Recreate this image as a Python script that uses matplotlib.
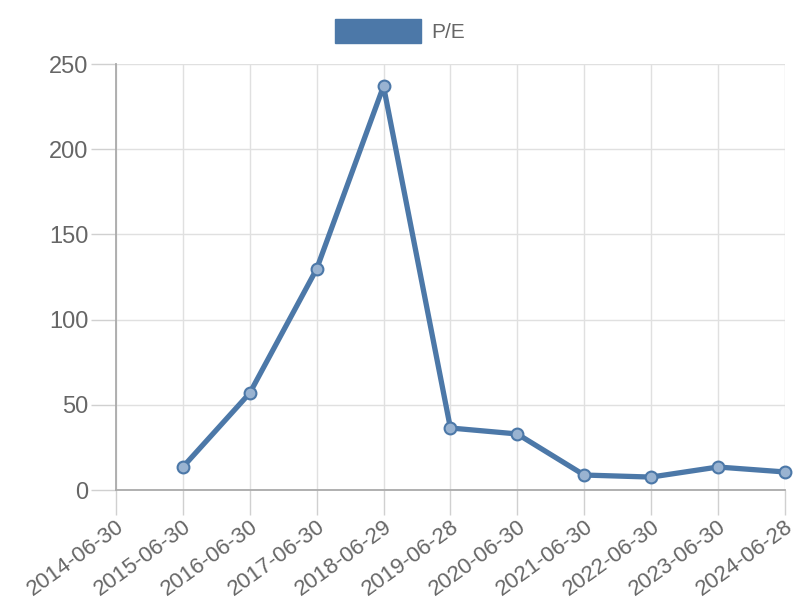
import numpy as np
import matplotlib
matplotlib.use("Agg")
import matplotlib.pyplot as plt
from matplotlib.patches import Patch

plt.rcParams['font.family'] = ['Liberation Sans', 'DejaVu Sans']

dates = ["2014-06-30", "2015-06-30", "2016-06-30", "2017-06-30", "2018-06-29",
         "2019-06-28", "2020-06-30", "2021-06-30", "2022-06-30", "2023-06-30",
         "2024-06-28"]
pe = [np.nan, 13.5, 56.9, 129.7, 237.0, 36.4, 32.9, 8.8, 7.6, 13.5, 10.6]

blue = "#4c78a8"
gray = "#666666"

fig = plt.figure(figsize=(8, 6), dpi=100)
ax = fig.add_axes([0.145, 0.1833, 0.836, 0.71])

x = np.arange(len(dates))
ax.plot(x, pe, color=blue, lw=3.8, marker="o", ms=8.5,
        mfc=(0.6, 0.7, 0.82, 1.0), mec=blue, mew=1.5, zorder=3, clip_on=False)

ax.set_xlim(0, len(dates) - 1)
ax.set_ylim(0, 250)
ax.set_yticks([0, 50, 100, 150, 200, 250])
ax.set_xticks(x)
ax.set_xticklabels(dates, rotation=36, ha="right", rotation_mode="anchor")
ax.tick_params(colors="#d0d0d0", labelcolor=gray, width=1)
ax.tick_params(axis="y", length=18, pad=2, labelsize=17)
ax.tick_params(axis="x", length=18, pad=1, labelsize=16)
ax.grid(True, color="#e0e0e0", lw=1)
ax.set_axisbelow(True)
for s in ["top", "right"]:
    ax.spines[s].set_visible(False)
for s in ["left", "bottom"]:
    ax.spines[s].set_color("#aaaaaa")
    ax.spines[s].set_linewidth(1.3)

handle = Patch(facecolor=blue, edgecolor=blue, label="P/E")
fig.legend(handles=[handle], loc="upper center", bbox_to_anchor=(0.5, 1.0),
           frameon=False, fontsize=15, handlelength=4.1, handleheight=1.4,
           handletextpad=0.5, labelcolor=gray)

fig.savefig("out.png", dpi=100)
